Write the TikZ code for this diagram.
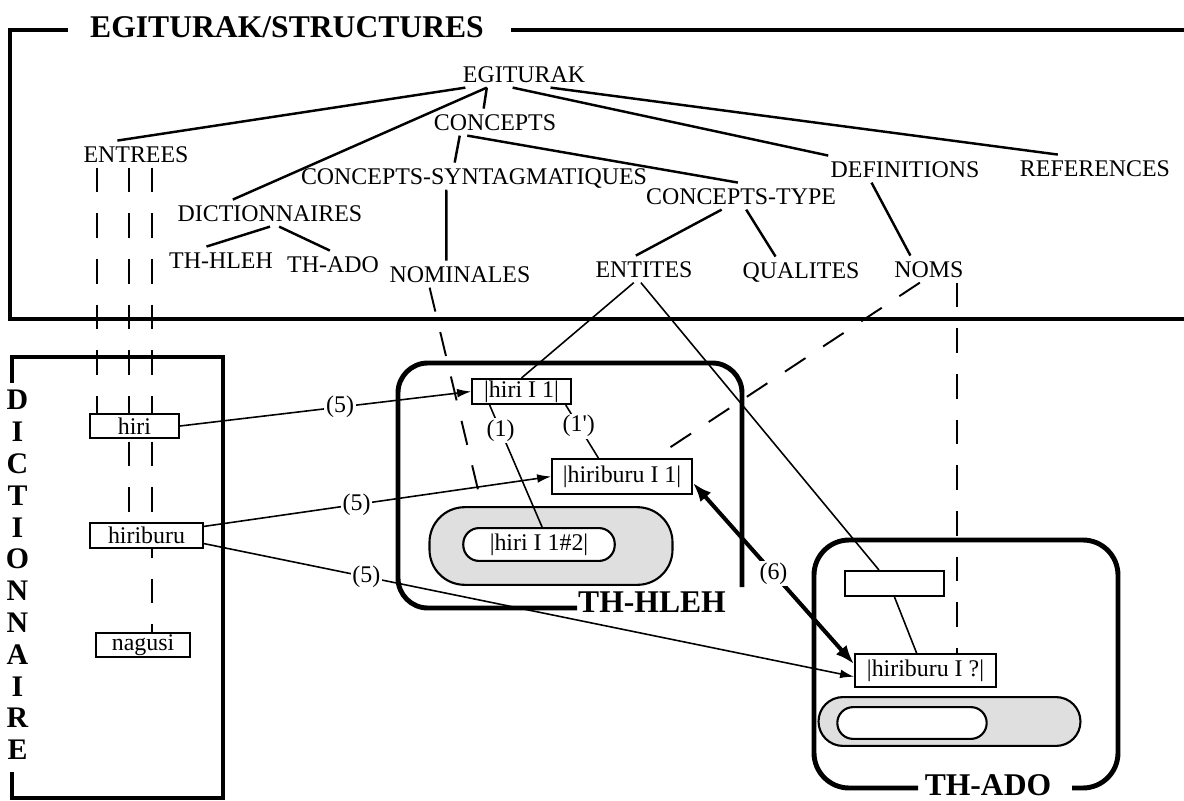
\documentclass[tikz,border=0pt]{standalone}
\usepackage{fontspec}
\setmainfont{Liberation Serif}
\usetikzlibrary{arrows.meta,backgrounds}

\tikzset{
  tnode/.style={inner xsep=2pt, inner ysep=3pt, text height=9pt, text depth=0pt, anchor=base},
  tree/.style={line width=1.4pt},
  link/.style={line width=0.9pt},
  dashlink/.style={line width=1.1pt, dash pattern=on 14pt off 12pt},
  frame/.style={line width=2.8pt},
  box/.style={draw, fill=white, line width=1.2pt, inner sep=0pt},
  pill/.style={box, rounded corners=#1},
  pill/.default=9pt,
  lab/.style={fill=white, inner sep=1pt},
  big/.style={font=\fontsize{18}{20}\selectfont\bfseries, anchor=base},
  arr/.style={-{Latex[length=8pt,width=5pt]}},
  dblarr/.style={line width=2.3pt, {Latex[length=11pt,width=8pt]}-{Latex[length=11pt,width=8pt]}},
}

\begin{document}
\begin{tikzpicture}[x=0.02cm, y=-0.02cm, every node/.style={font=\fontsize{13.6}{16}\selectfont}]
    \useasboundingbox (0,0) rectangle (1184,801);

    % frames
    \draw[frame] (68,30) -| (10,319) -- (1184,319);
    \draw[frame] (511,30) -- (1184,30);
    \node[big, anchor=base west] (structures) at (84,37) {EGITURAK/STRUCTURES};

    \draw[frame] (12,383) |- (223,357) |- (12,798) -- (12,772);
    \node[font=\fontsize{17}{18.1}\selectfont\bfseries, align=center, anchor=north, inner sep=0pt] (dictv) at (17.5,390)
        {D\\I\\C\\T\\I\\O\\N\\N\\A\\I\\R\\E};

    \draw[frame, rounded corners=17pt] (577,608) -| (398,363) -| (742,587);
    \node[big] (hleh) at (652,612) {TH-HLEH};
    \draw[frame, rounded corners=20pt] (918,788) -| (814,540) -| (1118,788) -- (1072,788);
    \node[big] (ado) at (988,795) {TH-ADO};

    % tree
    \node[tnode] (egiturak) at (524,82) {EGITURAK};
    \node[tnode] (concepts) at (495,130) {CONCEPTS};
    \node[tnode] (entrees) at (136,162) {ENTREES};
    \node[tnode] (csynt) at (474,184) {CONCEPTS-SYNTAGMATIQUES};
    \node[tnode] (dicts) at (270,221) {DICTIONNAIRES};
    \node[tnode] (thhleh) at (221,268) {TH-HLEH};
    \node[tnode] (thado) at (333,272) {TH-ADO};
    \node[tnode] (nominales) at (460,282) {NOMINALES};
    \node[tnode] (definitions) at (905,177) {DEFINITIONS};
    \node[tnode] (references) at (1095,176) {REFERENCES};
    \node[tnode] (ctype) at (741,204) {CONCEPTS-TYPE};
    \node[tnode] (entites) at (644,277) {ENTITES};
    \node[tnode] (qualites) at (801,278) {QUALITES};
    \node[tnode] (noms) at (929,277) {NOMS};

    \draw[tree] (egiturak.193) -- (entrees.144);
    \draw[tree] (egiturak.200) -- (dicts.160);
    \draw[tree] (egiturak.200) -- (concepts.130);
    \draw[tree] (egiturak.230) -- (definitions.170);
    \draw[tree] (egiturak.-27) -- (references.160);
    \draw[tree] (concepts.201) -- (csynt.145);
    \draw[tree] (concepts.206) -- (ctype.103);
    \draw[tree] (dicts.270) -- (thhleh.137);
    \draw[tree] (dicts.-56) -- (thado.103);
    \draw[tree] (csynt.206) -- (nominales.135);
    \draw[tree] (ctype.215) -- (entites.121);
    \draw[tree] (ctype.-69) -- (qualites.152);
    \draw[tree] (definitions.202) -- (noms.144);

    % dictionary entries
    \node[box, minimum width=50.5pt, minimum height=13.6pt] (hiri) at (134.5,426) {hiri};
    \node[box, minimum width=64pt, minimum height=14.2pt] (hiriburu) at (146.5,535.5) {hiriburu};
    \node[box, minimum width=53.3pt, minimum height=13.6pt] (nagusi) at (143,645) {nagusi};

    % TH-HLEH
    \node[box, minimum width=56.1pt, minimum height=14.2pt] (hiri1) at (521.5,391.5) {|hiri I 1|};
    \node[box, minimum width=79.4pt, minimum height=19.8pt] (hiriburu1) at (622,476.5) {|hiriburu I 1|};
    \node[pill=20pt, fill=gray!25, minimum width=138.3pt, minimum height=44.2pt] (hlehpill) at (551,546) {};
    \node[pill, minimum width=86.2pt, minimum height=18.7pt] (hiri12) at (539,544.5) {|hiri I 1\#2|};

    % TH-ADO
    \node[box, minimum width=56.1pt, minimum height=14.2pt] (adoempty) at (894.5,583.5) {};
    \node[box, minimum width=80pt, minimum height=18.7pt] (adoq) at (925.5,670.5) {|hiriburu I ?|};
    \node[pill=13.9pt, fill=gray!25, minimum width=149.1pt, minimum height=27.8pt] (adopill) at (949.5,721.5) {};
    \node[pill, minimum width=85pt, minimum height=18.1pt] (adoinner) at (912,723) {};

    \begin{scope}[on background layer]
        \draw[dashlink] (entrees.199) -- (entrees.199 |- hiri.north);
        \draw[dashlink] (entrees.242) -- (entrees.242 |- hiriburu.north);
        \draw[dashlink] (entrees.319) -- (entrees.319 |- nagusi.north);
    \end{scope}

    \draw[dashlink] (nominales.204) -- (hlehpill.150);
    \draw[dashlink] (noms.236) -- (hiriburu1.30);
    \draw[dashlink] (noms.-26) -- (noms.-26 |- adoq.north);
    \draw[link] (entites.233) -- (hiri1.north);
    \draw[link] (entites.257) -- (adoempty.139);
    \draw[link] (adoempty.south) -- (adoq.117);

    \draw[link, arr] (hiri.east) -- node[lab, pos=.55] {(5)} (hiri1.west);
    \draw[link, arr] (hiriburu.9) -- node[lab, pos=.44] {(5)} (hiriburu1.west);
    \draw[link, arr] (hiriburu.-8) -- node[lab, pos=.25] {(5)} (adoq.185);
    \draw[link] (hiri1.203) -- node[lab, pos=.21] {(1)} (hiri12.80);
    \draw[link] (hiri1.-17) -- node[lab, pos=.4] {(1\textquotesingle)} (hiriburu1.142);
    \draw[dblarr] (hiriburu1.-5) -- node[lab, pos=.5] {(6)} (adoq.175);
\end{tikzpicture}
\end{document}
